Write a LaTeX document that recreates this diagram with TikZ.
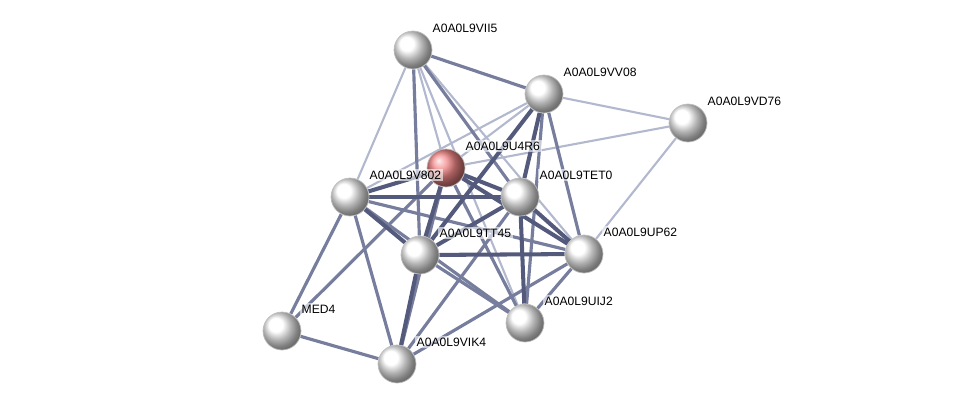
\documentclass[tikz,border=0pt]{standalone}
\usepackage{fontspec}
\setsansfont{Liberation Sans}
\usetikzlibrary{backgrounds}

\definecolor{protred}{RGB}{242,135,135}
\definecolor{edgestrong}{RGB}{84,90,124}
\definecolor{edgemid}{RGB}{118,125,157}
\definecolor{edgeweak}{RGB}{178,184,206}

\begin{document}
\begin{tikzpicture} [x=0.02cm, y=-0.02cm,
		% define styles
		protnodestyle/.style={
			% The shape:
			circle,
			% The size:
			minimum size=0.76cm,
			inner sep=0pt,
			% The border:
			draw=black!25,
			% The filling:
			shading=ball,
			ball color=white
		},
		querynodestyle/.style={
			protnodestyle,
			% The filling:
			ball color=protred
		},
		protlabel/.style={
			% Font
			font=\sffamily\fontsize{6.9}{8}\selectfont,
			text=black,
			% white halo behind the name
			fill=white,
			fill opacity=0.6,
			text opacity=1,
			inner sep=1pt,
			label distance=-1pt,
			yshift=0.44cm
		},
		strongedge/.style={
			% Thickness
			line width=2.3pt,
			% Color
			edgestrong
		},
		midedge/.style={
			line width=1.8pt,
			edgemid
		},
		weakedge/.style={
			line width=1.2pt,
			edgeweak
		}]
		% end of style definition

		\useasboundingbox (0,0) rectangle (976,410);

		% draw nodes
		\node (iVII5) [protnodestyle, label={[protlabel]0:A0A0L9VII5}] at (413,50) {};
		\node (iVV08) [protnodestyle, label={[protlabel]0:A0A0L9VV08}] at (544,94) {};
		\node (iVD76) [protnodestyle, label={[protlabel]0:A0A0L9VD76}] at (688,123) {};
		\node (iU4R6) [querynodestyle, label={[protlabel]0:A0A0L9U4R6}] at (446,168) {};
		\node (iV802) [protnodestyle, label={[protlabel]0:A0A0L9V802}] at (350,197) {};
		\node (iTET0) [protnodestyle, label={[protlabel]0:A0A0L9TET0}] at (520,197) {};
		\node (iTT45) [protnodestyle, label={[protlabel]0:A0A0L9TT45}] at (420,255) {};
		\node (iUP62) [protnodestyle, label={[protlabel]0:A0A0L9UP62}] at (584,254) {};
		\node (iUIJ2) [protnodestyle, label={[protlabel]0:A0A0L9UIJ2}] at (525,323) {};
		\node (iMED4) [protnodestyle, label={[protlabel]0:MED4}] at (282,331) {};
		\node (iVIK4) [protnodestyle, label={[protlabel]0:A0A0L9VIK4}] at (397,364) {};

		% connect nodes
		\begin{pgfonlayer}{background}
		% weak links
		\draw [weakedge] (iVII5) -- (iV802);
		\draw [weakedge] (iVII5) -- (iU4R6);
		\draw [weakedge] (iVII5) -- (iUP62);
		\draw [weakedge] (iVII5) -- (iUIJ2);
		\draw [weakedge] (iVV08) -- (iVD76);
		\draw [weakedge] (iVV08) -- (iV802);
		\draw [weakedge] (iVV08) -- (iU4R6);
		\draw [weakedge] (iVD76) -- (iU4R6);
		\draw [weakedge] (iVD76) -- (iUP62);
		% medium links
		\draw [midedge] (iVII5) -- (iVV08);
		\draw [midedge] (iVII5) -- (iTT45);
		\draw [midedge] (iVII5) -- (iTET0);
		\draw [midedge] (iVV08) -- (iUP62);
		\draw [midedge] (iVV08) -- (iUIJ2);
		\draw [midedge] (iU4R6) -- (iUIJ2);
		\draw [midedge] (iU4R6) -- (iVIK4);
		\draw [midedge] (iU4R6) -- (iMED4);
		\draw [midedge] (iV802) -- (iUP62);
		\draw [midedge] (iV802) -- (iUIJ2);
		\draw [midedge] (iV802) -- (iMED4);
		\draw [midedge] (iV802) -- (iVIK4);
		\draw [midedge] (iTET0) -- (iVIK4);
		\draw [midedge] (iTT45) -- (iUIJ2);
		\draw [midedge] (iUP62) -- (iUIJ2);
		\draw [midedge] (iUP62) -- (iVIK4);
		\draw [midedge] (iMED4) -- (iVIK4);
		% strong links
		\draw [strongedge] (iVV08) -- (iTT45);
		\draw [strongedge] (iVV08) -- (iTET0);
		\draw [strongedge] (iU4R6) -- (iV802);
		\draw [strongedge] (iU4R6) -- (iTET0);
		\draw [strongedge] (iU4R6) -- (iTT45);
		\draw [strongedge] (iU4R6) -- (iUP62);
		\draw [strongedge] (iV802) -- (iTET0);
		\draw [strongedge] (iV802) -- (iTT45);
		\draw [strongedge] (iTET0) -- (iTT45);
		\draw [strongedge] (iTET0) -- (iUP62);
		\draw [strongedge] (iTET0) -- (iUIJ2);
		\draw [strongedge] (iTT45) -- (iUP62);
		\draw [strongedge] (iTT45) -- (iVIK4);
		\end{pgfonlayer}
	\end{tikzpicture}
\end{document}
